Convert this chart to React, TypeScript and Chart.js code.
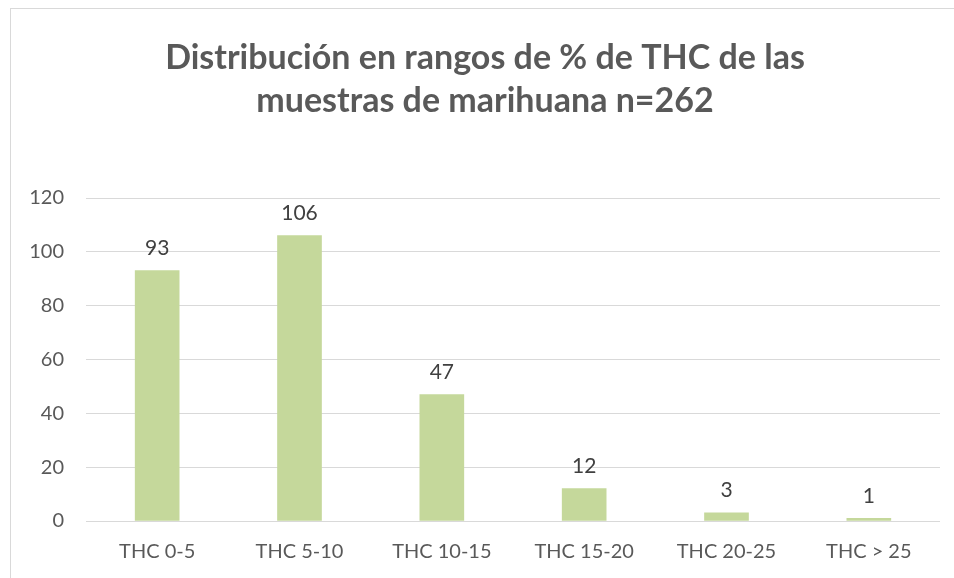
import React, { useEffect, useRef } from "react";
import { Chart, registerables } from "chart.js";

Chart.register(...registerables);

const categories = ["THC 0-5", "THC 5-10", "THC 10-15", "THC 15-20", "THC 20-25", "THC > 25"];
const counts = [93, 106, 47, 12, 3, 1];
const titleLines = ["Distribución en rangos de % de THC de las", "muestras de marihuana n=262"];
const yMin = 0;
const yMax = 120;
const yStep = 20;

const FONT = "Lato, 'Open Sans', sans-serif";

const valueLabels = {
  id: "valueLabels",
  afterDatasetsDraw(chart: any) {
    const ctx = chart.ctx;
    const meta = chart.getDatasetMeta(0);
    ctx.save();
    ctx.fillStyle = "#404040";
    ctx.font = `21px ${FONT}`;
    ctx.textAlign = "center";
    ctx.textBaseline = "bottom";
    meta.data.forEach((bar: any, i: number) => {
      ctx.fillText(String(chart.data.datasets[0].data[i]), bar.x, bar.y - 12);
    });
    ctx.restore();
  },
};

const titlePlugin = {
  id: "customTitle",
  afterDraw(chart: any) {
    const ctx = chart.ctx;
    ctx.save();
    ctx.fillStyle = "#595959";
    ctx.font = `bold 34px ${FONT}`;
    ctx.textAlign = "center";
    ctx.textBaseline = "middle";
    ctx.fillText(titleLines[0], 485, 58);
    ctx.fillText(titleLines[1], 485, 101);
    ctx.restore();
  },
};

export default function App() {
  const ref = useRef<HTMLCanvasElement>(null);
  useEffect(() => {
    if (!ref.current) return;
    const chart = new Chart(ref.current, {
      type: "bar",
      data: {
        labels: categories,
        datasets: [
          {
            data: counts,
            backgroundColor: "#C5D89B",
            barThickness: 44,
          },
        ],
      },
      options: {
        animation: false,
        responsive: false,
        maintainAspectRatio: false,
        layout: { padding: { top: 198, right: 14, left: 0, bottom: 0 } },
        plugins: { legend: { display: false }, title: { display: false }, tooltip: { enabled: false } },
        scales: {
          x: {
            grid: { display: false },
            border: { display: false },
            ticks: { color: "#595959", font: { size: 20, family: FONT }, padding: 11 },
            afterFit(scale: any) {
              scale.height = 57;
            },
          },
          y: {
            min: yMin,
            max: yMax,
            ticks: { stepSize: yStep, color: "#595959", font: { size: 20, family: FONT }, padding: 22 },
            grid: { color: "#D9D9D9", lineWidth: 1, drawTicks: false },
            border: { display: false },
            afterFit(scale: any) {
              scale.width = 86;
            },
          },
        },
      },
      plugins: [valueLabels, titlePlugin],
    });
    return () => chart.destroy();
  }, []);
  return (
    <div style={{ position: "fixed", left: 0, top: 0, width: 954, height: 578, background: "#fff", overflow: "hidden" }}>
      <div
        style={{
          position: "absolute",
          left: 10,
          top: 8,
          width: 1000,
          height: 700,
          border: "1px solid #D9D9D9",
          boxSizing: "border-box",
        }}
      />
      <canvas ref={ref} width={954} height={578} style={{ position: "absolute", left: 0, top: 0 }} />
    </div>
  );
}
